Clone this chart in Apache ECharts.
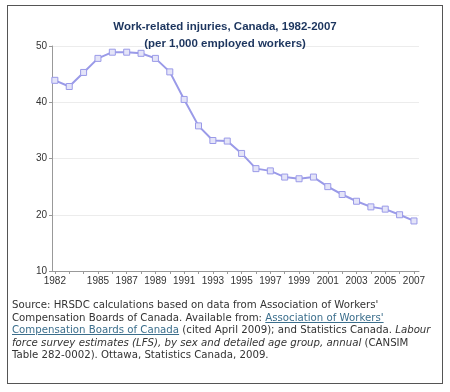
<!DOCTYPE html>
<html>
<head>
<meta charset="utf-8">
<script src="https://cdn.jsdelivr.net/npm/echarts@6/dist/echarts.min.js"></script>
<style>
html,body{margin:0;padding:0;background:#fff;}
#wrap{position:relative;width:450px;height:392px;}
#box{position:absolute;left:7px;top:5px;width:434px;height:377px;border:1px solid #555;box-sizing:content-box;}
#chart{position:absolute;left:0;top:0;width:450px;height:392px;}
#note{position:absolute;left:12px;top:299px;width:432px;font-family:"DejaVu Sans",Verdana,sans-serif;font-size:10.2px;line-height:12.5px;color:#333;white-space:nowrap;}
#note a{color:#3b6e8c;text-decoration:underline;}
</style>
</head>
<body>
<div id="wrap">
<div id="box"></div>
<div id="chart"></div>
<div id="note">Source: HRSDC calculations based on data from Association of Workers'<br>Compensation Boards of Canada. Available from: <a>Association of Workers'</a><br><a>Compensation Boards of Canada</a> (cited April 2009); and Statistics Canada. <i>Labour</i><br><i>force survey estimates (LFS), by sex and detailed age group, annual</i> (CANSIM<br>Table 282-0002). Ottawa, Statistics Canada, 2009.</div>
</div>
<script>
const years = [1982,1983,1984,1985,1986,1987,1988,1989,1990,1991,1992,1993,1994,1995,1996,1997,1998,1999,2000,2001,2002,2003,2004,2005,2006,2007];
const injuries = [43.9,42.8,45.3,47.8,48.9,48.9,48.7,47.8,45.4,40.5,35.8,33.2,33.1,30.9,28.2,27.8,26.7,26.4,26.7,25.0,23.6,22.4,21.4,21.0,20.0,18.9];
const xTickLabels = [1982,1985,1987,1989,1991,1993,1995,1997,1999,2001,2003,2005,2007];
const yTicks = [10,20,30,40,50];

const chart = echarts.init(document.getElementById('chart'), null, {renderer:'canvas'});
chart.setOption({
  animation:false,
  backgroundColor:'transparent',
  title:{
    text:'Work-related injuries, Canada, 1982-2007\n(per 1,000 employed workers)',
    left:'center', top:13,
    textStyle:{fontFamily:'Liberation Sans, Arial, sans-serif',fontSize:11.5,fontWeight:'bold',color:'#1c355e',lineHeight:17}
  },
  grid:{left:52,right:31,top:46,bottom:121,containLabel:false},
  xAxis:{
    type:'value', min:1981.8, max:2007.35,
    axisLine:{lineStyle:{color:'#999'}},
    axisTick:{show:true,customValues:years,length:3,lineStyle:{color:'#999'}},
    axisLabel:{customValues:xTickLabels,color:'#333',fontFamily:'Liberation Sans, Arial, sans-serif',fontSize:10,margin:5,formatter:v=>String(v)},
    splitLine:{show:false}
  },
  yAxis:{
    type:'value', min:10, max:50, interval:10,
    axisLine:{show:true,lineStyle:{color:'#999'}},
    axisTick:{show:true,length:3,lineStyle:{color:'#999'}},
    axisLabel:{color:'#333',fontFamily:'Liberation Sans, Arial, sans-serif',fontSize:10,margin:5},
    splitLine:{lineStyle:{color:'#ececec'}}
  },
  series:[{
    type:'line',
    data:years.map((y,i)=>[y,injuries[i]]),
    symbol:'rect', symbolSize:6,
    lineStyle:{color:'#9a9ae8',width:2},
    itemStyle:{color:'#e4e4f8',borderColor:'#9a9ae8',borderWidth:1}
  }]
});
</script>
</body>
</html>
